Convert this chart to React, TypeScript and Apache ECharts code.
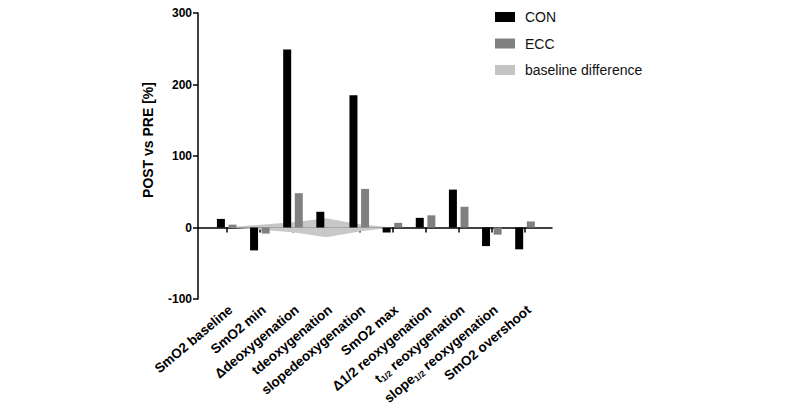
import React, { useEffect, useRef } from "react";
import * as echarts from "echarts";

const categories = [
  "SmO2 baseline",
  "SmO2 min",
  "Δdeoxygenation",
  "tdeoxygenation",
  "slopedeoxygenation",
  "SmO2 max",
  "Δ1/2 reoxygenation",
  "t1/2 reoxygenation",
  "slope1/2 reoxygenation",
  "SmO2 overshoot",
];
const conValues = [12, -32, 249, 22, 185, -7, 13.5, 53, -26, -30.5];
const eccValues = [4, -8.5, 48, 0, 54, 6.5, 17, 29, -10, 8.5];
const baselineUpper = [0, 4, 7.5, 13, 4.5, 0];
const baselineLower = [0, -3, -6.5, -13.5, -5.5, 0];
const yTicks = [-100, 0, 100, 200, 300];
const yTitle = "POST vs PRE [%]";

const FONT = "'Liberation Sans', Arial, Helvetica, sans-serif";

function fmtLabel(name: string): string {
  const m = name.match(/^(t|slope)1\/2 (.*)$/);
  if (m) return `{m|${m[1]}}{s|1/2}{m| ${m[2]}}`;
  return `{m|${name}}`;
}

export default function App() {
  const ref = useRef<HTMLDivElement>(null);
  useEffect(() => {
    const chart = echarts.init(ref.current!, null, { renderer: "svg" });
    const idx = categories.map((_, i) => i);
    const xMin = -0.866;
    const xMax = 9.815;
    const shift = 0.12;
    chart.setOption({
      animation: false,
      backgroundColor: "#ffffff",
      textStyle: { fontFamily: FONT },
      grid: { left: 198, right: 248, top: 13, bottom: 118 },
      graphic: [
        {
          type: "text",
          x: 148,
          y: 140,
          rotation: Math.PI / 2,
          style: {
            text: yTitle,
            fontFamily: FONT,
            fontSize: 14,
            fontWeight: "bold",
            fill: "#000",
            align: "center",
            verticalAlign: "middle",
          },
        },
      ],
      legend: {
        orient: "vertical",
        left: 495,
        top: 9,
        padding: 0,
        itemWidth: 20,
        itemHeight: 10,
        itemGap: 10.5,
        icon: "rect",
        textStyle: { fontFamily: FONT, fontSize: 14, color: "#111", lineHeight: 16, padding: [0, 0, 0, 5] },
        data: [
          { name: "CON" },
          { name: "ECC" },
          { name: "baseline difference", itemStyle: { color: "#c4c4c4" } },
        ],
      },
      xAxis: [
        {
          type: "value",
          min: xMin,
          max: xMax,
          axisLine: { show: true, onZero: true, lineStyle: { color: "#000", width: 1.5 } },
          axisTick: { show: true, length: 5, customValues: idx, lineStyle: { color: "#000", width: 1.5 } },
          axisLabel: { show: false },
          splitLine: { show: false },
        },
        {
          type: "value",
          min: xMin - shift,
          max: xMax - shift,
          position: "bottom",
          axisLine: { show: false, onZero: false },
          axisTick: { show: false },
          splitLine: { show: false },
          axisLabel: {
            show: true,
            customValues: idx,
            rotate: 40,
            margin: 9,
            formatter: (v: number) => fmtLabel(categories[Math.round(v)]),
            rich: {
              m: { fontFamily: FONT, fontSize: 13.5, fontWeight: "bold", color: "#000", lineHeight: 15 },
              s: { fontFamily: FONT, fontSize: 8.5, fontWeight: "bold", color: "#000", lineHeight: 8, verticalAlign: "bottom" },
            },
          },
        },
      ],
      yAxis: {
        type: "value",
        min: -100,
        max: 300,
        interval: 100,
        axisLine: { show: true, onZero: false, lineStyle: { color: "#000", width: 1.5 } },
        axisTick: { show: true, length: 5, lineStyle: { color: "#000", width: 1.5 } },
        axisLabel: {
          fontFamily: FONT,
          fontSize: 12,
          fontWeight: "bold",
          color: "#000",
          margin: 6,
          customValues: yTicks,
        },
        splitLine: { show: false },
      },
      series: [
        {
          name: "baseline difference",
          type: "line",
          xAxisIndex: 0,
          data: baselineUpper.map((v, i) => [i, v]),
          symbol: "none",
          color: "#c8c8c8",
          lineStyle: { width: 0 },
          areaStyle: { color: "#c8c8c8", opacity: 1 },
          z: 1,
        },
        {
          name: "baseline difference",
          type: "line",
          xAxisIndex: 0,
          data: baselineLower.map((v, i) => [i, v]),
          symbol: "none",
          color: "#c8c8c8",
          lineStyle: { width: 0 },
          areaStyle: { color: "#c8c8c8", opacity: 1 },
          z: 1,
        },
        {
          name: "CON",
          type: "bar",
          xAxisIndex: 0,
          data: conValues.map((v, i) => [i, v]),
          barWidth: 8,
          barGap: "45%",
          itemStyle: { color: "#000000" },
          z: 3,
        },
        {
          name: "ECC",
          type: "bar",
          xAxisIndex: 0,
          data: eccValues.map((v, i) => [i, v]),
          barWidth: 8,
          barGap: "45%",
          itemStyle: { color: "#808080" },
          z: 3,
        },
      ],
    });
    return () => chart.dispose();
  }, []);
  return (
    <div
      ref={ref}
      style={{ position: "absolute", left: 0, top: 0, width: 800, height: 417 }}
    />
  );
}
